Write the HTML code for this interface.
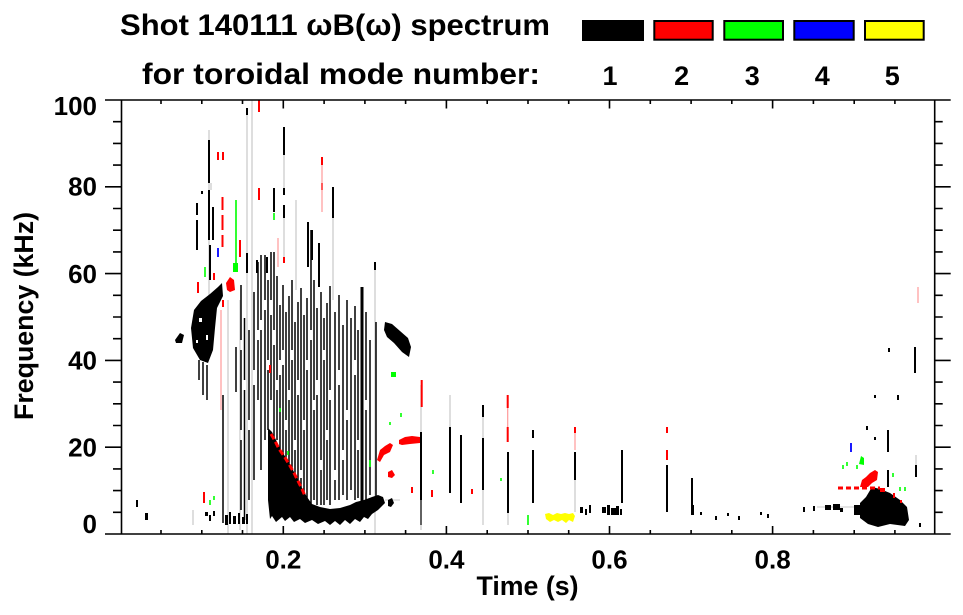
<!DOCTYPE html>
<html><head><meta charset="utf-8"><style>
html,body{margin:0;padding:0;background:#fff;}
svg{display:block;}
text{font-family:"Liberation Sans",Arial,sans-serif;font-weight:bold;fill:#000;}
</style></head><body>
<svg width="963" height="615" viewBox="0 0 963 615" xmlns="http://www.w3.org/2000/svg">
<rect x="0" y="0" width="963" height="615" fill="#fff"/>

<!-- Titles -->
<text x="120" y="35" font-size="30" textLength="430" lengthAdjust="spacingAndGlyphs">Shot 140111 ωB(ω) spectrum</text>
<text x="142" y="84" font-size="30" textLength="398" lengthAdjust="spacingAndGlyphs">for toroidal mode number:</text>

<!-- Legend -->
<rect x="582" y="20" width="62" height="21" fill="#000"/>
<rect x="654.3" y="21" width="58.4" height="18.7" fill="#ff0000" stroke="#000" stroke-width="2"/>
<rect x="724.3" y="21" width="58.7" height="18.7" fill="#00ff00" stroke="#000" stroke-width="2"/>
<rect x="794.3" y="21" width="59.4" height="18.7" fill="#0000ff" stroke="#000" stroke-width="2"/>
<rect x="865" y="21" width="58.7" height="18.7" fill="#ffff00" stroke="#000" stroke-width="2"/>
<g font-size="27" text-anchor="middle">
<text x="610" y="85">1</text>
<text x="681.7" y="85">2</text>
<text x="752.3" y="85">3</text>
<text x="822.3" y="85">4</text>
<text x="892.3" y="85">5</text>
</g>

<!-- DATA -->
<g>
<!-- gray lines -->
<path fill="none" stroke="#c8c8c8" stroke-width="1.2" d="M247 115V534 M252 100V534 M375 270V534 M421 385V432 M421 500V530 M450 395V427 M483 417V438 M483 490V525 M508 513V525 M575 480V512 M284 155V188 M284 218V260 M333 218V300 M228 300V534 M296 200V290 M916 455V465 M193 510V525 M211 183V190 M240 300V530 M209 130V300"/>
<path fill="none" stroke="#c8c8c8" stroke-width="1" d="M817 507H860 M385 500H400"/>

<!-- dense black stripes -->
<path fill="none" stroke="#000" stroke-width="1.5" d="M223 395V523 M236 347V392
M241 285V340 M241 350V430 M241 440V510
M244.5 318V380 M244.5 390V520
M249 330V420 M249 430V500
M254 292V370 M254 385V480
M258 262V330 M258 340V400
M261 255V320 M261 330V470
M265 255V300 M265 310V440
M268 280V360 M268 370V430
M271 252V300 M271 315V400
M274 252V330 M274 345V450
M277 276V380 M277 390V440
M280 305V360 M280 375V455
M283 285V350 M283 365V460
M286 312V420 M286 430V465
M289 296V390 M289 400V470
M292 280V350 M292 360V475
M295 322V440 M295 450V485
M298 302V380 M298 395V490
M301 288V470 M301 478V500
M304 315V420 M304 430V500
M307 298V360 M307 370V500
M311 230V330 M311 340V505
M314 280V400 M314 410V500
M317 308V380 M317 395V505
M321 292V460 M321 470V505
M324 318V350 M324 360V505
M327 303V430 M327 440V500
M330 286V390 M330 400V505
M335 312V470 M335 480V500
M339 295V370 M339 385V500
M343 325V450 M343 460V495
M347 300V410 M347 420V500
M351 318V490
M355 306V360 M355 375V500
M358 330V440 M358 450V498
M366 312V400 M366 410V500
M370 340V495
M376 322V505
M199 360V380 M203 362V395 M207 365V400"/>

<!-- thick black lines -->
<path fill="none" stroke="#000" stroke-width="2" d="M209 140V183 M209 190V240 M210 245V280 M421 432V500 M450 427V493 M461 435V503 M483 438V490 M483 405V417 M508 452V513 M533 430V438 M533 450V503 M575 452V480 M622 450V503 M667 465V512 M692 478V515 M915 347V373 M888 430V452 M888 470V487 M916 465V477 M284 127V155 M284 188V195 M284 205V218 M333 187V218 M308 222V267 M319 243V287 M274 188V212 M197 203V215 M197 220V250 M213 207V240 M247 108V115 M247 253V273 M257 260V273 M267 257V273 M312 230V260 M375 262V270 M202 191V194"/>
<path fill="none" stroke="#000" stroke-width="3" d="M362 287V505"/>
<path fill="none" stroke="#000" stroke-width="1.2" d="M421 500V525"/>

<!-- black blobs -->
<polygon fill="#000" points="191,328 194,310 201,301 210,294 218,287 222,283 223,296 217,308 215,328 213,350 208,363 200,360 193,348"/>
<g fill="#fff"><rect x="199" y="318" width="3" height="4"/><rect x="206" y="335" width="2" height="5"/><rect x="196" y="340" width="2" height="3"/></g>
<polygon fill="#000" points="175,340 180,333 184,335 182,343 176,343"/>
<polygon fill="#000" points="385,322 392,324 400,331 408,338 411,347 409,357 402,352 394,343 387,337 384,330"/>
<polygon fill="#000" points="268,428 272,432 276,440 280,448 286,458 292,468 297,478 302,488 307,497 312,504 320,507 330,509 340,508 350,505 356,502 364,500 372,497 378,495 383,497 385,503 378,510 372,514 368,519 364,517 360,522 355,519 350,524 345,520 340,525 335,521 330,525 325,521 318,524 312,520 305,523 300,519 294,522 290,517 285,521 282,517 276,522 272,516 270,519 268,500"/>
<polygon fill="#000" points="388,500 392,498 394,503 391,507 388,506"/>
<g fill="#000">
<rect x="225" y="515" width="3" height="10"/><rect x="229" y="512" width="2" height="12"/><rect x="233" y="516" width="3" height="8"/><rect x="238" y="513" width="2" height="11"/><rect x="242" y="517" width="3" height="7"/><rect x="246" y="514" width="2" height="10"/>
</g>
<polygon fill="#000" points="860,503 866,497 872,487 880,489 890,493 900,500 907,507 909,520 905,526 890,524 878,527 868,524 860,518"/>

<!-- black specks -->
<g fill="#000">
<rect x="136" y="500" width="2" height="7"/><rect x="145" y="513" width="3" height="7"/>
<rect x="205" y="512" width="3" height="4"/><rect x="209" y="515" width="2" height="6"/><rect x="213" y="511" width="2" height="5"/>
<rect x="580" y="507" width="3" height="6"/><rect x="585" y="509" width="2" height="6"/><rect x="589" y="505" width="2" height="8"/>
<rect x="602" y="507" width="4" height="6"/><rect x="607" y="505" width="3" height="10"/><rect x="611" y="508" width="5" height="7"/><rect x="616" y="506" width="3" height="9"/><rect x="620" y="509" width="2" height="6"/>
<rect x="692" y="505" width="2" height="10"/><rect x="700" y="512" width="2" height="3"/><rect x="715" y="516" width="2" height="4"/><rect x="727" y="513" width="2" height="3"/><rect x="738" y="516" width="2" height="4"/><rect x="760" y="512" width="2" height="3"/><rect x="767" y="514" width="2" height="4"/>
<rect x="803" y="507" width="2" height="5"/><rect x="813" y="506" width="2" height="5"/><rect x="825" y="505" width="6" height="5"/><rect x="833" y="504" width="7" height="6"/><rect x="840" y="508" width="3" height="4"/><rect x="854" y="505" width="8" height="10"/>
<rect x="888" y="348" width="2" height="4"/><rect x="874" y="395" width="2" height="3"/><rect x="897" y="395" width="2" height="5"/><rect x="866" y="426" width="2" height="4"/><rect x="874" y="437" width="2" height="3"/><rect x="919" y="523" width="2" height="4"/>
</g>

<!-- red -->
<path fill="none" stroke="#ff0000" stroke-width="2" d="M259 100V112 M259 188V200 M218 152V160 M223 152V160 M222.5 197V210 M222.5 215V230 M222.5 235V247 M240 240V257 M214 273V280 M198 282V293 M223 300V307 M322 157V165 M322 183V190 M284 257V263 M270 365V373 M421.7 380V407 M507.7 395V408 M507.7 427V442 M575 427V433 M667 427V433 M667 450V460 M204 492V503 M412 487V493 M432 490V497 M472 489V494"/>
<path fill="none" stroke="#ff9999" stroke-width="1.2" d="M221 310V410 M322 165V212 M575 433V450 M918 287V303 M278 238V267 M507.7 408V427"/>
<polyline fill="none" stroke="#ff0000" stroke-width="3" stroke-dasharray="6 3" points="271,434 275,441 279,449 284,456 289,464 294,473 298,481 302,489 305,496"/>
<g fill="#ff0000">
<polygon points="377,460 380,450 385,446 390,443 393,445 390,452 384,455 380,462"/>
<polygon points="399,440 405,437 412,436 420,437 420,443 410,444 402,445 399,444"/>
<polygon points="388,472 392,470 395,475 392,478 388,477"/>
<polygon points="226,283 230,277 234,280 235,290 230,292 227,290"/>
<polygon points="860,487 862,480 866,477 870,473 875,470 878,472 877,480 872,483 868,487"/>
<rect x="880" y="488" width="5" height="4"/><rect x="893" y="493" width="2" height="5"/><rect x="900" y="500" width="2" height="3"/>
</g>
<path fill="none" stroke="#ff0000" stroke-width="3" stroke-dasharray="5 3" d="M838 488H880"/>

<!-- green -->
<path fill="none" stroke="#00ff00" stroke-width="1.6" d="M236 200V265 M205 267V277 M280 408V412 M288 451V455 M390 422V425 M370 460V467 M401 413V417 M433 470V474 M501 478V481 M528 515V525 M210 500V505 M214 496V500 M847 462V466 M857 465V469 M843 465V469 M893 473V477 M900 487V491 M905 487V491 M274 213V220"/>
<g fill="#00ff00">
<rect x="233" y="263" width="5" height="9"/>
<rect x="391" y="372" width="5" height="5"/>
<polygon points="859,464 861,456 864,458 864,465"/>
</g>

<!-- blue -->
<path fill="none" stroke="#0000ff" stroke-width="1.8" d="M218 248V257 M851 443V452"/>

<!-- yellow -->
<polygon fill="#ffff00" points="545,514 549,513 553,515 557,513 561,514 565,513 569,514 573,513 575,516 573,522 569,520 566,523 562,520 558,522 554,520 550,522 546,519"/>
</g>

<!-- AXES -->
<path fill="none" stroke="#000" stroke-width="1.6" d="M105 100H950.7 M105 534H950.7 M121.5 100V534 M934.7 100V534
M105 447.2H122 M105 360.4H122 M105 273.6H122 M105 186.8H122
M113 512.3H122 M113 490.6H122 M113 468.9H122 M113 425.5H122 M113 403.8H122 M113 382.1H122 M113 338.7H122 M113 317H122 M113 295.3H122 M113 251.9H122 M113 230.2H122 M113 208.5H122 M113 165.1H122 M113 143.4H122 M113 121.7H122
M934.7 447.2H950.7 M934.7 360.4H950.7 M934.7 273.6H950.7 M934.7 186.8H950.7
M934.7 512.3H942.7 M934.7 490.6H942.7 M934.7 468.9H942.7 M934.7 425.5H942.7 M934.7 403.8H942.7 M934.7 382.1H942.7 M934.7 338.7H942.7 M934.7 317H942.7 M934.7 295.3H942.7 M934.7 251.9H942.7 M934.7 230.2H942.7 M934.7 208.5H942.7 M934.7 165.1H942.7 M934.7 143.4H942.7 M934.7 121.7H942.7
M161 534V530 M201.8 534V530 M242.5 534V530 M283.3 534V526 M324.1 534V530 M364.9 534V530 M405.6 534V530 M446.4 534V526 M487.2 534V530 M528 534V530 M568.7 534V530 M609.5 534V526 M650.3 534V530 M691.1 534V530 M731.8 534V530 M772.6 534V526 M813.4 534V530 M854.2 534V530 M894.9 534V530
M161 100V104 M201.8 100V104 M242.5 100V104 M283.3 100V108.5 M324.1 100V104 M364.9 100V104 M405.6 100V104 M446.4 100V108.5 M487.2 100V104 M528 100V104 M568.7 100V104 M609.5 100V108.5 M650.3 100V104 M691.1 100V104 M731.8 100V104 M772.6 100V108.5 M813.4 100V104 M854.2 100V104 M894.9 100V104"/>

<!-- Y labels -->
<g font-size="26" text-anchor="end">
<text x="97" y="115">100</text>
<text x="97" y="195.5">80</text>
<text x="97" y="282.8">60</text>
<text x="97" y="369.7">40</text>
<text x="97" y="456.5">20</text>
<text x="97" y="533">0</text>
</g>
<!-- X labels -->
<g font-size="26" text-anchor="middle">
<text x="283.3" y="568.3">0.2</text>
<text x="446.4" y="568.3">0.4</text>
<text x="609.5" y="568.3">0.6</text>
<text x="772.6" y="568.3">0.8</text>
</g>
<text x="527.5" y="595" font-size="26.5" text-anchor="middle" textLength="102" lengthAdjust="spacingAndGlyphs">Time (s)</text>
<text transform="translate(33,316) rotate(-90)" font-size="27" text-anchor="middle" textLength="208" lengthAdjust="spacingAndGlyphs">Frequency (kHz)</text>
</svg>
</body></html>
